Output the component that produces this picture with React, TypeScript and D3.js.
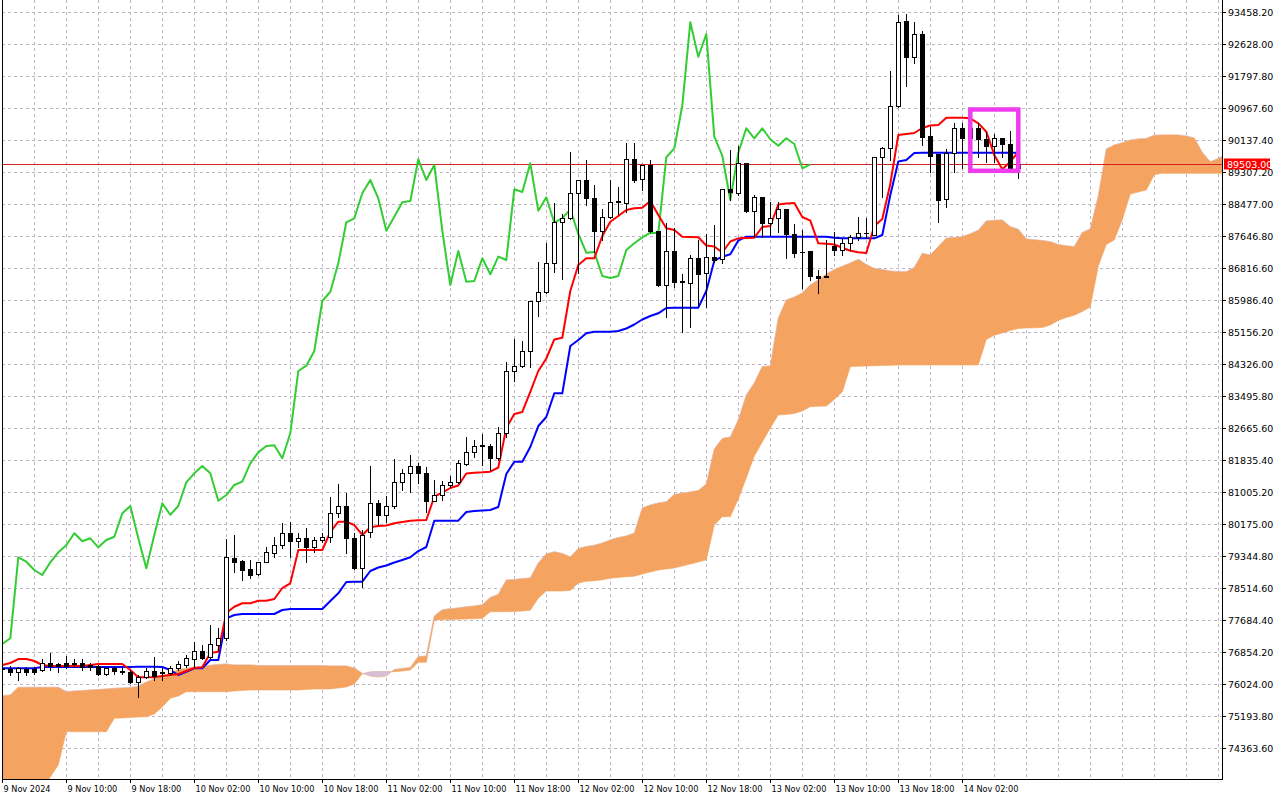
import React from "react";
import * as d3 from "d3";

// ---------- DATA (BTCUSD H1) ----------
const opens = [
  76440, 76413, 76335, 76413, 76413, 76387, 76561, 76535, 76561, 76561,
  76561, 76517, 76499, 76283, 76431, 76361, 76327, 76084, 76213, 76361,
  76302, 76317, 76447, 76517, 76672, 76888, 76732, 77036, 77210, 79301,
  79215, 79007, 78870, 79181, 79430, 79622, 79934, 79726, 79804, 79570,
  79760, 79845, 80452, 80642, 79804, 79028, 79959, 80712, 80416, 80642,
  81256, 81490, 81680, 81490, 80779, 80927, 81187, 81273, 81731, 82034,
  82198, 82198, 81879, 82528, 84144, 84282, 84663, 85960, 86202, 86938,
  88002, 88106, 88755, 89100, 88625, 87784, 88147, 88521, 88495, 89637,
  89118, 89489, 87784, 86375, 87258, 86461, 86418, 87068, 86679, 87111,
  87042, 88858, 88770, 89533, 88303, 88651, 87992, 88106, 88339, 87699,
  87239, 87257, 86609, 86575, 87387, 87283, 87457, 87612, 87716, 87673,
  89704, 89922, 91027, 93225, 92298, 92887, 90241, 89774, 88599, 89808,
  90441, 90182, 90441, 90156, 89990, 90197, 90034, 89403,
];
const highs = [
  76520, 76491, 76465, 76473, 76473, 76665, 76836, 76561, 76750, 76665,
  76665, 76561, 76517, 76473, 76491, 76431, 76387, 76257, 76431, 76732,
  76431, 76499, 76621, 76776, 77121, 77036, 77555, 77469, 79778, 79889,
  79241, 79241, 79197, 79570, 79845, 80193, 80227, 79934, 80063, 79830,
  79934, 80868, 81213, 80979, 79934, 80019, 81680, 80798, 80901, 81853,
  81593, 81965, 81766, 81663, 81317, 81299, 81421, 81835, 82423, 82354,
  82510, 82250, 82699, 84386, 84975, 84923, 85960, 86964, 87473, 88495,
  88217, 89818, 89100, 89618, 88970, 88339, 89100, 88926, 90052, 90052,
  89489, 89619, 87784, 87976, 87846, 86653, 87154, 87543, 87699, 87932,
  88858, 89878, 89982, 89533, 88710, 88651, 88537, 88537, 88339, 87958,
  87802, 87257, 86765, 87543, 87758, 87587, 87673, 88147, 88106, 89689,
  89964, 91935, 93380, 93406, 93191, 92965, 90482, 89774, 89896, 90571,
  90571, 90578, 90571, 90353, 90286, 90197, 90371, 89618,
];
const lows = [
  76360, 76257, 76128, 76257, 76283, 76361, 76387, 76343, 76431, 76473,
  76387, 76387, 76257, 76257, 76283, 76283, 76042, 75695, 76172, 76128,
  76128, 76257, 76387, 76473, 76473, 76672, 76690, 76906, 77165, 78937,
  78722, 78782, 78852, 79181, 79326, 79544, 79326, 79586, 79197, 79456,
  79716, 79716, 80364, 79423, 79002, 78548, 79845, 80149, 80235, 80582,
  81057, 81014, 81231, 80494, 80779, 80798, 81143, 81231, 81705, 81921,
  81705, 81576, 81835, 82440, 83893, 84256, 84256, 85571, 86160, 86720,
  86523, 88088, 86679, 88451, 87239, 87543, 88106, 88217, 88277, 89056,
  88840, 87758, 86357, 85553, 86331, 85164, 85294, 85856, 85812, 86981,
  86954, 88581, 88710, 88277, 87629, 87629, 87673, 87758, 87068, 87110,
  86287, 86505, 86176, 86575, 87148, 87148, 87283, 87543, 87587, 87673,
  88666, 89618, 91001, 91538, 92127, 90008, 89315, 88018, 88407, 89315,
  89403, 89878, 89704, 89574, 89574, 89704, 89350, 89144,
];
const closes = [
  76420, 76335, 76439, 76343, 76343, 76561, 76499, 76499, 76499, 76543,
  76473, 76473, 76283, 76431, 76361, 76327, 76084, 76198, 76361, 76232,
  76343, 76431, 76535, 76691, 76888, 76706, 77062, 77210, 79311, 79197,
  78981, 78852, 79181, 79441, 79622, 79934, 79726, 79804, 79570, 79760,
  79845, 80452, 80642, 79804, 79028, 79889, 80712, 80416, 80642, 81256,
  81490, 81680, 81490, 80779, 80927, 81187, 81273, 81750, 82034, 82198,
  82216, 81879, 82528, 84144, 84282, 84663, 85960, 86201, 86938, 88002,
  88106, 88755, 89100, 88625, 87784, 88147, 88521, 88555, 89637, 89100,
  89489, 87784, 86375, 87258, 86461, 86479, 87068, 86653, 87111, 87024,
  88858, 88788, 89533, 88303, 88651, 87992, 88106, 88339, 87699, 87213,
  87230, 86609, 86557, 86609, 87283, 87457, 87612, 87732, 87724, 89689,
  89922, 91027, 93191, 92298, 92887, 90223, 89730, 88581, 89808, 90441,
  90182, 90441, 90156, 89990, 90182, 90034, 89403, 89503,
];

// Tenkan-sen (red)
const tenkan = [
  76517, 76569, 76672, 76672, 76621, 76517, 76491, 76491, 76491, 76491,
  76491, 76517, 76543, 76543, 76543, 76543, 76387, 76198, 76198, 76198,
  76231, 76257, 76283, 76361, 76439, 76457, 76828, 76862, 77866, 78029,
  78118, 78118, 78185, 78185, 78229, 78514, 78636, 79500, 79500, 79500,
  79500, 79967, 80235, 80235, 80149, 79890, 80089, 80123, 80136, 80193,
  80227, 80261, 80271, 80279, 80883, 80992, 81109, 81174, 81485, 81506,
  81516, 81532, 81641, 82666, 83029, 83081, 83600, 84144, 84469, 84962,
  85008, 86220, 86894, 87068, 87068, 87647, 88018, 88166, 88321, 88365,
  88381, 88555, 88192, 87847, 87802, 87629, 87621, 87613, 87400, 87374,
  87219, 87504, 87587, 87595, 87603, 87880, 87906, 88464, 88490, 88503,
  88140, 88044, 87457, 87444, 87426, 87343, 87265, 87224, 87206, 87906,
  88088, 88996, 90267, 90293, 90319, 90449, 90514, 90527, 90716, 90716,
  90716, 90700, 90571, 90353, 89750, 89380, 89574, 89826,
];

// Kijun-sen (blue)
const kijun = [
  76431, 76431, 76431, 76431, 76431, 76465, 76465, 76465, 76465, 76465,
  76465, 76465, 76465, 76465, 76465, 76465, 76465, 76473, 76473, 76473,
  76465, 76387, 76257, 76343, 76431, 76431, 76647, 76647, 77728, 77814,
  77840, 77840, 77840, 77840, 77840, 77944, 77970, 77970, 77970, 77970,
  77970, 78177, 78377, 78670, 78678, 78678, 78956, 79046, 79098, 79176,
  79241, 79311, 79474, 79578, 80261, 80261, 80261, 80261, 80486, 80512,
  80525, 80538, 80616, 81472, 81791, 81791, 82173, 82717, 82951, 83566,
  83566, 84793, 84949, 85122, 85164, 85164, 85164, 85182, 85247, 85351,
  85480, 85571, 85641, 85779, 85787, 85787, 85787, 85787, 86220, 87006,
  87110, 87172, 87530, 87629, 87629, 87629, 87629, 87629, 87629, 87629,
  87629, 87629, 87629, 87629, 87603, 87587, 87587, 87587, 87587, 87587,
  87673, 88710, 89580, 89619, 89800, 89808, 89808, 89808, 89808, 89808,
  89808, 89808, 89808, 89808, 89808, 89808, 89808, 89808,
];

// Senkou Span A / B (already displaced 26 bars forward, index 0..153)
const senkouA = [
  75720, 75738, 75938, 75938, 75938, 75938, 75938, 75938, 75824, 75842,
  75855, 75868, 75881, 75894, 75912, 75920, 75933, 75959, 76076, 76154,
  76218, 76301, 76400, 76431, 76460, 76478, 76509, 76530, 76543, 76517,
  76517, 76517, 76504, 76504, 76504, 76504, 76504, 76504, 76504, 76504,
  76504, 76491, 76491, 76491, 76439, 76300, 76231, 76205, 76231, 76400,
  76426, 76452, 76737, 76750, 77788, 77951, 77977, 77996, 78027, 78047,
  78081, 78268, 78346, 78722, 78735, 78761, 78774, 79163, 79397, 79456,
  79410, 79319, 79539, 79591, 79622, 79682, 79760, 79825, 79864, 79941,
  80590, 80668, 80720, 80753, 80940, 80971, 81005, 81044, 81213, 82121,
  82393, 82432, 82873, 83522, 83833, 84261, 84274, 85519, 85986, 86064,
  86168, 86376, 86505, 86661, 86778, 86861, 86946, 87042, 86907, 86806,
  86778, 86739, 86721, 86721, 86830, 87198, 87154, 87374, 87590, 87608,
  87629, 87706, 87795, 88036, 88054, 88062, 87888, 87820, 87569, 87548,
  87530, 87499, 87426, 87393, 87369, 87738, 87828, 88685, 89904, 90008,
  90065, 90137, 90163, 90179, 90259, 90267, 90267, 90267, 90241, 90189,
  89813, 89574, 89657, 89774,
];
const senkouB = [
  73274, 73274, 73274, 73274, 73274, 73274, 73611, 73922, 74786, 74786,
  74786, 74786, 74786, 74786, 75134, 75142, 75155, 75168, 75175, 75246,
  75427, 75653, 75713, 75824, 75824, 75824, 75824, 75824, 75824, 75842,
  75855, 75868, 75868, 75868, 75868, 75868, 75868, 75868, 75881, 75894,
  75894, 75894, 75920, 75946, 76024, 76290, 76335, 76348, 76343, 76343,
  76361, 76387, 76587, 76587, 77684, 77689, 77697, 77705, 77710, 77718,
  77728, 77900, 77900, 77900, 77905, 77918, 77939, 78247, 78437, 78437,
  78437, 78450, 78644, 78688, 78701, 78727, 78766, 78787, 78808, 78818,
  78878, 78930, 78981, 79007, 79033, 79085, 79137, 79189, 79241, 80149,
  80364, 80364, 80823, 81368, 81939, 82302, 82666, 83003, 83016, 83042,
  83107, 83218, 83229, 83236, 83405, 83600, 84256, 84266, 84274, 84282,
  84287, 84292, 84300, 84300, 84300, 84300, 84300, 84300, 84300, 84300,
  84300, 84300, 84300, 84962, 85071, 85130, 85195, 85247, 85260, 85265,
  85273, 85338, 85454, 85532, 85592, 85688, 85805, 86868, 87426, 87543,
  88072, 88736, 88788, 88840, 89235, 89273, 89273, 89273, 89273, 89273,
  89273, 89273, 89273, 89273,
];

const CHIKOU_SHIFT = 26;
const LAST_PRICE = 89503.0;

const priceTicks = [
  93458.2, 92628.0, 91797.8, 90967.6, 90137.4, 89307.2, 88477.0, 87646.8,
  86816.6, 85986.4, 85156.2, 84326.0, 83495.8, 82665.6, 81835.4, 81005.2,
  80175.0, 79344.8, 78514.6, 77684.4, 76854.2, 76024.0, 75193.8, 74363.6,
];
const timeLabels = [
  "9 Nov 2024", "9 Nov 10:00", "9 Nov 18:00", "10 Nov 02:00", "10 Nov 10:00",
  "10 Nov 18:00", "11 Nov 02:00", "11 Nov 10:00", "11 Nov 18:00", "12 Nov 02:00",
  "12 Nov 10:00", "12 Nov 18:00", "13 Nov 02:00", "13 Nov 10:00", "13 Nov 18:00",
  "14 Nov 02:00",
];
const LABEL_EVERY = 8;
const GRID_EVERY = 4;
// highlight rectangle (bar index range, price range)
const boxBars = [121, 127];
const boxPrices = [90929, 89338];

// ---------- LAYOUT ----------
const W = 1280;
const H = 800;
const PL = 2;
const PR = 1222;
const PT = 0;
const PB = 779;

const x = d3.scaleLinear().domain([0, 1]).range([2.3, 10.3]);
const y = d3.scaleLinear().domain([74363.6, 93458.2]).range([748, 12]);

const FONT = "'DejaVu Sans', Tahoma, sans-serif";

export default function App() {
  const nCloud = senkouA.length;
  const idx = d3.range(nCloud);

  const cloudArea = d3
    .area<number>()
    .x((i) => x(i))
    .y0((i) => y(senkouB[i]))
    .y1((i) => y(senkouA[i]));
  const aboveA = d3
    .area<number>()
    .x((i) => x(i))
    .y0(() => -50)
    .y1((i) => y(senkouA[i]));

  const line = d3
    .line<number>()
    .x((_, i) => x(i))
    .y((d) => y(d));
  const chikouLine = d3
    .line<number>()
    .x((_, j) => x(j))
    .y((d) => y(d));
  const chikou = closes.slice(CHIKOU_SHIFT);

  const gridX = d3.range(0, nCloud, GRID_EVERY);
  const yLast = y(LAST_PRICE);

  return (
    <div style={{ position: "absolute", left: 0, top: 0, width: W, height: H, background: "#fff" }}>
      <svg width={W} height={H} style={{ display: "block" }}>
        <defs>
          <clipPath id="plotClip">
            <rect x={PL} y={PT} width={PR - PL} height={PB - PT} />
          </clipPath>
          <clipPath id="aboveAClip">
            <path d={aboveA(idx) || ""} />
          </clipPath>
        </defs>
        <rect x={0} y={0} width={W} height={H} fill="#ffffff" />

        {/* grid */}
        <g stroke="#bdb5c4" strokeWidth={1} strokeDasharray="3,3" fill="none">
          {priceTicks.map((p) => {
            const yy = Math.round(y(p)) + 0.5;
            return <line key={"h" + p} x1={PL} x2={PR} y1={yy} y2={yy} />;
          })}
          {gridX.map((i) => {
            const xx = Math.round(x(i)) + 0.5;
            if (xx > PR) return null;
            return <line key={"v" + i} x1={xx} x2={xx} y1={PT} y2={PB} />;
          })}
        </g>

        <g clipPath="url(#plotClip)">
          {/* cloud */}
          <path d={cloudArea(idx) || ""} fill="#F4A460" stroke="#F4A460" strokeWidth={0.6} />
          <g clipPath="url(#aboveAClip)">
            <path d={cloudArea(idx) || ""} fill="#D8BFD8" stroke="#D8BFD8" strokeWidth={0.6} />
          </g>

          {/* last price line */}
          <line x1={PL} x2={PR} y1={Math.round(yLast) + 0.5} y2={Math.round(yLast) + 0.5} stroke="#d42020" strokeWidth={1} />

          {/* ichimoku lines */}
          <path d={chikouLine(chikou) || ""} fill="none" stroke="#32CD32" strokeWidth={2} strokeLinejoin="round" />
          <path d={line(kijun) || ""} fill="none" stroke="#0000FF" strokeWidth={2} strokeLinejoin="round" />
          <path d={line(tenkan) || ""} fill="none" stroke="#FF0000" strokeWidth={2} strokeLinejoin="round" />

          {/* candles */}
          {opens.map((o, i) => {
            const c = closes[i];
            const xc = Math.round(x(i)) + 0.5;
            const yH = Math.round(y(highs[i]));
            const yL = Math.round(y(lows[i]));
            const yO = y(o);
            const yC = y(c);
            const top = Math.round(Math.min(yO, yC));
            const bot = Math.round(Math.max(yO, yC));
            const bull = c >= o;
            const hgt = bot - top;
            return (
              <g key={"c" + i}>
                <line x1={xc} x2={xc} y1={yH} y2={yL + 1} stroke="#000" strokeWidth={1} />
                {hgt < 1 ? (
                  <line x1={xc - 2.5} x2={xc + 2.5} y1={top + 0.5} y2={top + 0.5} stroke="#000" strokeWidth={1} />
                ) : (
                  <rect
                    x={xc - 2}
                    y={top + 0.5}
                    width={4}
                    height={hgt}
                    fill={bull ? "#ffffff" : "#000000"}
                    stroke="#000"
                    strokeWidth={1}
                  />
                )}
              </g>
            );
          })}

          {/* highlight box */}
          <rect
            x={x(boxBars[0])}
            y={y(boxPrices[0])}
            width={x(boxBars[1]) - x(boxBars[0])}
            height={y(boxPrices[1]) - y(boxPrices[0])}
            fill="none"
            stroke="#EE3CEE"
            strokeWidth={4.5}
          />
        </g>

        {/* frame */}
        <line x1={PL + 0.5} x2={PL + 0.5} y1={PT} y2={PB} stroke="#000" strokeWidth={1} />
        <line x1={PR + 0.5} x2={PR + 0.5} y1={PT} y2={PB + 1} stroke="#000" strokeWidth={1} />
        <line x1={PL} x2={PR + 1} y1={PB + 0.5} y2={PB + 0.5} stroke="#000" strokeWidth={1} />

        {/* price axis */}
        <g fontFamily={FONT} fontSize={9.5} fill="#000">
          {priceTicks.map((p) => {
            const yy = Math.round(y(p)) + 0.5;
            return (
              <g key={"pt" + p}>
                <line x1={PR} x2={PR + 4} y1={yy} y2={yy} stroke="#000" />
                <text x={PR + 6} y={yy} dominantBaseline="central">
                  {p.toFixed(2)}
                </text>
              </g>
            );
          })}
        </g>

        {/* last price label */}
        <rect x={PR + 2} y={Math.round(yLast) - 5.5} width={46} height={11} fill="#FF0000" />
        <text
          x={PR + 5}
          y={Math.round(yLast) + 0.5}
          dominantBaseline="central"
          fontFamily={FONT}
          fontSize={9.5}
          fill="#ffffff"
        >
          {LAST_PRICE.toFixed(2)}
        </text>

        {/* time axis */}
        <g fontFamily={FONT} fontSize={9.5} fill="#000">
          {timeLabels.map((t, n) => {
            const xx = Math.round(x(n * LABEL_EVERY)) + 0.5;
            return (
              <g key={"t" + n}>
                <line x1={xx} x2={xx} y1={PB} y2={PB + 4} stroke="#000" />
                <text
                  transform={`translate(${xx + 1},788.5) scale(0.86,1)`}
                  dominantBaseline="central"
                >
                  {t}
                </text>
              </g>
            );
          })}
        </g>
      </svg>
    </div>
  );
}
